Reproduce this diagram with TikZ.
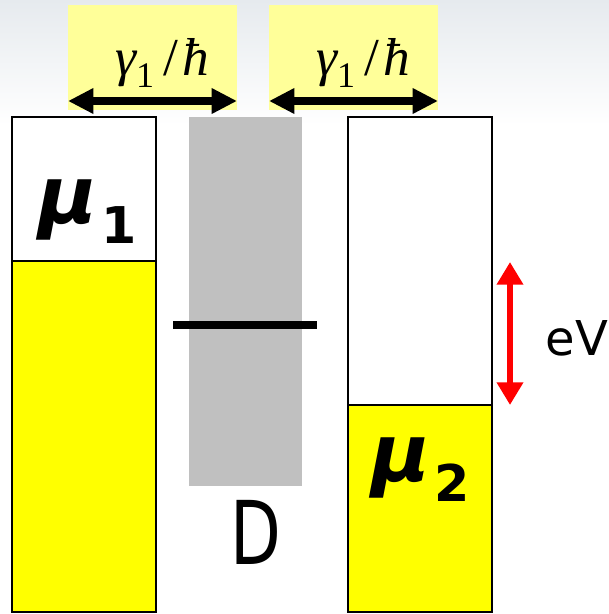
\documentclass[tikz,border=0pt]{standalone}
\usepackage{fontspec}
\newfontfamily\handfont{DejaVu Sans}
\newfontfamily\timesfont{Liberation Serif}
\usetikzlibrary{arrows.meta}
\definecolor{labelyellow}{RGB}{255,255,153}
\definecolor{fillyellow}{RGB}{255,255,0}
\definecolor{dotgray}{RGB}{192,192,192}
\definecolor{bgtop}{RGB}{230,234,238}
\newcommand{\gammalabel}{{\itshape γ}\raisebox{-9pt}{\fontsize{27}{29}\selectfont 1}\hspace{7pt}/\hspace{3pt}{\itshape ħ}}
\tikzset{
  reservoir/.style={draw=black, line width=1.5pt},
  bigarrow/.style={line width=5.5pt, {Triangle[length=19pt,width=18pt]}-{Triangle[length=19pt,width=18pt]}},
  redarrow/.style={red, line width=5pt, {Triangle[length=17pt,width=19pt]}-{Triangle[length=17pt,width=19pt]}},
  mathlabel/.style={inner sep=0pt, font=\timesfont\fontsize{40}{44}\selectfont},
  handlabel/.style={inner sep=0pt, font=\handfont\bfseries\itshape\fontsize{60}{64}\selectfont},
}
\begin{document}
\begin{tikzpicture}[x=0.75pt,y=-0.75pt]
\useasboundingbox (0,0) rectangle (609,614);
% faint slide background at the top
\shade[top color=bgtop, bottom color=white] (0,0) rectangle (609,125);
% label backgrounds
\fill[labelyellow] (68,5) rectangle (237,110);
\fill[labelyellow] (269,5) rectangle (438,110);
% left reservoir
\fill[white] (12,117) rectangle (156,261);
\fill[fillyellow] (12,261) rectangle (156,612);
\draw[reservoir] (12,117) rectangle (156,612);
\draw[reservoir] (12,261) -- (156,261);
% dot barrier
\fill[dotgray] (189,117) rectangle (302,486);
% right reservoir
\fill[white] (348,117) rectangle (492,405);
\fill[fillyellow] (348,405) rectangle (492,612);
\draw[reservoir] (348,117) rectangle (492,612);
\draw[reservoir] (348,405) -- (492,405);
% dot level
\coordinate (lvA) at (173,325);
\coordinate (lvB) at (317,325);
\draw[line width=5.5pt] (lvA) -- (lvB);
% coupling arrows
\coordinate (aL1) at (68,101);
\coordinate (aL2) at (237,101);
\coordinate (aR1) at (269,101);
\coordinate (aR2) at (438,101);
\draw[bigarrow] (aL1) -- (aL2);
\draw[bigarrow] (aR1) -- (aR2);
\node[mathlabel, anchor=base] (gL) at (162,75) {\gammalabel};
\node[mathlabel, anchor=base] (gR) at (363,75) {\gammalabel};
% bias arrow
\coordinate (eT) at (510,262);
\coordinate (eB) at (510,405);
\draw[redarrow] (eT) -- (eB);
\node[inner sep=0pt, font=\handfont\fontsize{36}{40}\selectfont] (eV) at (577,338) {eV};
% labels
\node[handlabel] (mu1) at (88,212) {μ\hspace{3pt}\raisebox{-15pt}{\upshape\fontsize{38}{42}\selectfont 1}};
\node[handlabel] (mu2) at (421,470) {μ\hspace{3pt}\raisebox{-15pt}{\upshape\fontsize{38}{42}\selectfont 2}};
\node[inner sep=0pt] (D) at (256,532) {\scalebox{0.75}[1]{\handfont\fontsize{66}{70}\selectfont D}};
\end{tikzpicture}
\end{document}
